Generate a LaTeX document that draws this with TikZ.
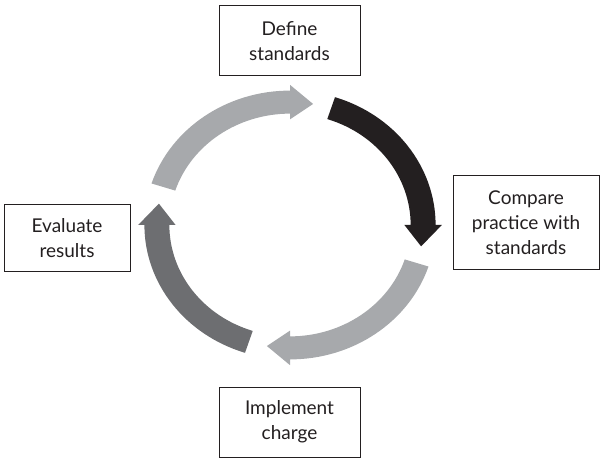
\documentclass[tikz,border=0pt]{standalone}
\usepackage{fontspec}
\setmainfont{Lato}
\definecolor{lightg}{HTML}{A7A9AC}
\definecolor{darkg}{HTML}{6D6E71}
\definecolor{blk}{HTML}{231F20}
\newcommand{\ringarr}[3]{%
  \pgfmathsetmacro{\hb}{#2+10}%
  \fill[#3] (#1:140) arc[start angle=#1, end angle=\hb, radius=140] -- (\hb:146) -- (#2:128) -- (\hb:110) -- (\hb:116) arc[start angle=\hb, end angle=#1, radius=116] -- cycle;}
\begin{document}
\begin{tikzpicture}[x=1pt,y=1pt,
  box/.style={draw=blk, line width=1pt, fill=white, align=center,
    font=\fontsize{19}{25}\selectfont, text=blk, inner sep=0pt}]
\useasboundingbox (0,0) rectangle (601,458);
\node[box, minimum width=141pt, minimum height=70pt] (define) at (289.5,417) {Define\\standards};
\node[box, minimum width=146pt, minimum height=93pt] (compare) at (526,235.5) {Compare\\practice with\\standards};
\node[box, minimum width=126pt, minimum height=66pt] (evaluate) at (67,220) {Evaluate\\results};
\node[box, minimum width=141pt, minimum height=70pt] (implement) at (289.5,36) {Implement\\charge};
\begin{scope}[shift={(290,233)}, xscale=1.04, yscale=0.96]
  \ringarr{162}{80}{lightg}
  \ringarr{72}{-10}{blk}
  \ringarr{-18}{-100}{lightg}
  \ringarr{252}{170}{darkg}
\end{scope}
\end{tikzpicture}
\end{document}
